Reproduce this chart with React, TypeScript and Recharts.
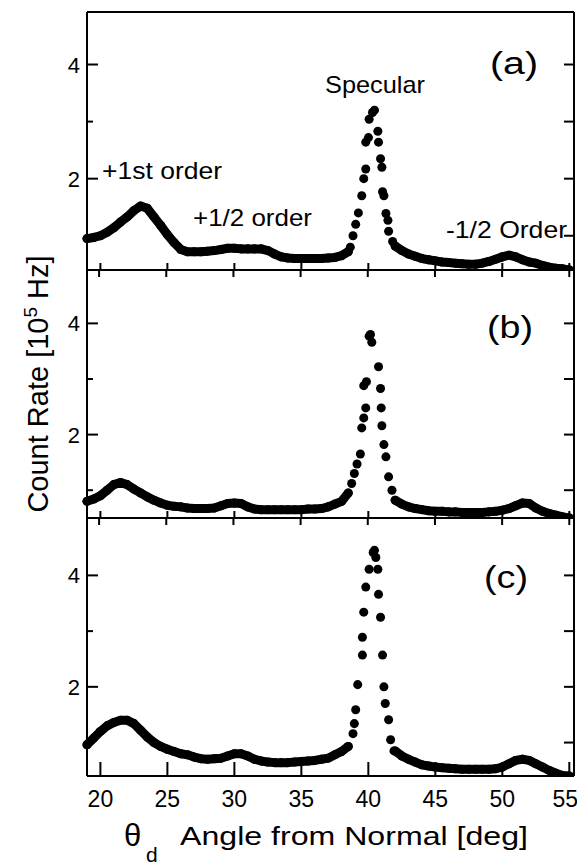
import React from 'react';
import { ScatterChart, Scatter, XAxis, YAxis } from 'recharts';

// angles (deg) of the smooth wings, shared by all three scans
const leftAngles = [
  19, 19.5, 20, 20.5, 21, 21.5, 22, 22.5, 23, 23.5,
  24, 24.5, 25, 25.5, 26, 26.5, 27, 27.5, 28, 28.5,
  29, 29.5, 30, 30.5, 31, 31.5, 32, 32.5, 33, 33.5,
  34, 34.5, 35, 35.5, 36, 36.5, 37, 37.5, 38, 38.5,
];
const rightAngles = [
  42, 42.5, 43, 43.5, 44, 44.5, 45, 45.5, 46, 46.5,
  47, 47.5, 48, 48.5, 49, 49.5, 50, 50.5, 51, 51.5,
  52, 52.5, 53, 53.5, 54, 54.5, 55,
];

// (a)
const leftA = [
  0.95, 0.97, 1.0, 1.06, 1.14, 1.24, 1.33, 1.44, 1.52, 1.48,
  1.33, 1.18, 1.02, 0.88, 0.76, 0.72, 0.72, 0.72, 0.73, 0.74,
  0.76, 0.78, 0.78, 0.77, 0.77, 0.77, 0.77, 0.74, 0.68, 0.63,
  0.61, 0.6, 0.6, 0.6, 0.6, 0.6, 0.61, 0.62, 0.65, 0.72,
];
const peakAnglesA = [38.7, 38.9, 39.1, 39.3, 39.55, 39.7, 39.85, 39.85, 40.05, 40.1, 40.35, 40.5, 40.75, 40.8, 40.95, 41.05, 41.1, 41.2, 41.35, 41.5, 41.55, 41.85];
const peakA = [0.8, 1.0, 1.2, 1.4, 1.7, 2.0, 2.17, 2.64, 2.72, 3.04, 3.16, 3.2, 2.83, 2.64, 2.35, 2.2, 1.77, 1.7, 1.39, 1.27, 1.08, 0.9];
const rightA = [
  0.82, 0.74, 0.68, 0.64, 0.6, 0.58, 0.56, 0.54, 0.53, 0.52,
  0.51, 0.5, 0.5, 0.52, 0.55, 0.59, 0.63, 0.66, 0.63, 0.58,
  0.54, 0.52, 0.48, 0.45, 0.43, 0.42, 0.4,
];

// (b)
const leftB = [
  0.8, 0.84, 0.9, 1.0, 1.1, 1.14, 1.1, 1.02, 0.95, 0.88,
  0.82, 0.77, 0.73, 0.71, 0.7, 0.68, 0.67, 0.67, 0.67, 0.68,
  0.72, 0.76, 0.77, 0.76, 0.7, 0.66, 0.65, 0.65, 0.65, 0.65,
  0.65, 0.65, 0.65, 0.66, 0.66, 0.67, 0.7, 0.75, 0.8, 0.95,
];
const peakAnglesB = [38.8, 39.0, 39.2, 39.45, 39.55, 39.7, 39.85, 39.7, 39.9, 40.1, 40.2, 40.3, 40.8, 40.95, 41.0, 41.05, 41.2, 41.35, 41.55, 41.8];
const peakB = [1.12, 1.3, 1.47, 1.65, 2.12, 2.3, 2.48, 2.88, 2.95, 3.77, 3.8, 3.66, 3.22, 2.83, 2.48, 2.16, 1.82, 1.6, 1.24, 1.0];
const rightB = [
  0.82, 0.75, 0.7, 0.67, 0.65, 0.63, 0.62, 0.62, 0.61, 0.61,
  0.6, 0.6, 0.6, 0.6, 0.61, 0.62, 0.64, 0.67, 0.72, 0.77,
  0.76, 0.68, 0.62, 0.58, 0.55, 0.52, 0.5,
];

// (c)
const leftC = [
  0.96, 1.08, 1.2, 1.3, 1.36, 1.4, 1.4, 1.34, 1.22, 1.1,
  1.0, 0.93, 0.88, 0.84, 0.8, 0.78, 0.74, 0.71, 0.7, 0.71,
  0.72, 0.76, 0.8, 0.8, 0.76, 0.7, 0.67, 0.65, 0.64, 0.64,
  0.64, 0.65, 0.66, 0.67, 0.68, 0.7, 0.72, 0.78, 0.84, 0.93,
];
const peakAnglesC = [38.9, 39.0, 39.1, 39.25, 39.6, 39.6, 39.7, 39.85, 40.1, 40.4, 40.5, 40.6, 40.75, 40.8, 40.95, 41.1, 41.2, 41.3, 41.55, 41.7, 41.95];
const peakC = [1.16, 1.34, 1.59, 2.04, 2.57, 2.89, 3.34, 3.79, 4.11, 4.41, 4.45, 4.32, 4.11, 3.66, 3.25, 2.57, 2.0, 1.7, 1.41, 1.05, 0.85];
const rightC = [
  0.85, 0.76, 0.7, 0.65, 0.6, 0.58, 0.56, 0.55, 0.54, 0.53,
  0.52, 0.52, 0.52, 0.52, 0.52, 0.53, 0.56, 0.62, 0.68, 0.7,
  0.68, 0.62, 0.56, 0.5, 0.45, 0.41, 0.4,
];

const majorX = [20, 25, 30, 35, 40, 45, 50, 55];
const allX = [
  19, 20, 21, 22, 23, 24, 25, 26, 27, 28, 29, 30, 31, 32, 33, 34, 35, 36, 37,
  38, 39, 40, 41, 42, 43, 44, 45, 46, 47, 48, 49, 50, 51, 52, 53, 54, 55,
];
const yTicks = [1, 2, 3, 4];

const FONT = '"Liberation Sans", Arial, Helvetica, sans-serif';
const W = 577;
const X_DOMAIN: [number, number] = [19.1, 55.35];

const pts = (xs: number[], ys: number[]) => xs.map((x, i) => ({ x, y: ys[i] }));

const wingLine = { stroke: '#000', strokeWidth: 9, strokeLinejoin: 'round', strokeLinecap: 'round' };
const frame = { stroke: '#000', strokeWidth: 2 };
const tickStroke = { stroke: '#000', strokeWidth: 2 };
const NoLabel = () => <g />;

const LeftTick = (props: any) => {
  const { x, y, payload } = props;
  const major = payload.value % 2 === 0;
  return (
    <g>
      <line x1={x} x2={x + (major ? 11 : 6)} y1={y} y2={y} stroke="#000" strokeWidth={2} />
      {major && (
        <text x={x - 7} y={y + 8} textAnchor="end" fontSize={22} fontFamily={FONT} fill="#000">
          {payload.value}
        </text>
      )}
    </g>
  );
};

// labels under panel (c); tick marks come from tickLine (size -14, margin 14 puts y back on the axis)
const BottomLabel = (props: any) => {
  const { x, y, payload } = props;
  const lx = payload.value === 55 ? x - 4 : x;
  return (
    <text x={lx} y={y + 31} textAnchor="middle" fontSize={23} fontFamily={FONT} fill="#000">
      {payload.value}
    </text>
  );
};

interface PanelProps {
  top: number;
  mt: number;
  plotH: number;
  yDomain: [number, number];
  left: number[];
  peakAngles: number[];
  peak: number[];
  right: number[];
  topTicks: boolean;
  labeled: boolean;
}

const Panel = ({ top, mt, plotH, yDomain, left, peakAngles, peak, right, topTicks, labeled }: PanelProps) => {
  const xH = labeled ? 45 : 2;
  const h = mt + 2 + plotH + xH + 3;
  return (
    <div style={{ position: 'absolute', left: 0, top }}>
      <ScatterChart width={W} height={h} margin={{ top: mt, right: 0, bottom: 3, left: 0 }}>
        {labeled && (
          <XAxis
            xAxisId="minor"
            orientation="bottom"
            type="number"
            dataKey="x"
            domain={X_DOMAIN}
            ticks={allX}
            interval={0}
            height={0}
            tickSize={-7}
            tickMargin={7}
            tick={NoLabel}
            stroke="#000"
            axisLine={frame}
            tickLine={tickStroke}
          />
        )}
        <XAxis
          xAxisId="b"
          orientation="bottom"
          type="number"
          dataKey="x"
          domain={X_DOMAIN}
          ticks={majorX}
          interval={0}
          height={xH}
          tickSize={labeled ? -14 : -7}
          tickMargin={labeled ? 14 : 7}
          tick={labeled ? BottomLabel : NoLabel}
          stroke="#000"
          axisLine={frame}
          tickLine={tickStroke}
        />
        <XAxis
          xAxisId="t"
          orientation="top"
          type="number"
          dataKey="x"
          domain={X_DOMAIN}
          ticks={majorX}
          interval={0}
          height={2}
          tickSize={topTicks ? -7 : 0}
          tickMargin={0}
          tick={NoLabel}
          stroke="#000"
          axisLine={frame}
          tickLine={topTicks ? tickStroke : false}
        />
        <YAxis
          yAxisId="l"
          orientation="left"
          type="number"
          dataKey="y"
          domain={yDomain}
          allowDataOverflow
          ticks={yTicks}
          interval={0}
          width={79}
          tickSize={0}
          tickMargin={0}
          tick={LeftTick}
          stroke="#000"
          axisLine={frame}
          tickLine={false}
        />
        <YAxis
          yAxisId="r"
          orientation="right"
          type="number"
          dataKey="y"
          domain={yDomain}
          allowDataOverflow
          ticks={yTicks}
          interval={0}
          width={11}
          tickSize={-10}
          tickMargin={0}
          tick={NoLabel}
          stroke="#000"
          axisLine={frame}
          tickLine={tickStroke}
        />
        <Scatter xAxisId="b" yAxisId="l" data={pts(leftAngles, left)} fill="#000" line={wingLine} isAnimationActive={false} />
        <Scatter xAxisId="t" yAxisId="l" data={pts(peakAngles, peak)} fill="#000" isAnimationActive={false} />
        <Scatter xAxisId="b" yAxisId="r" data={pts(rightAngles, right)} fill="#000" line={wingLine} isAnimationActive={false} />
        {labeled && (
          <Scatter xAxisId="minor" yAxisId="r" data={[]} fill="#000" isAnimationActive={false} />
        )}
      </ScatterChart>
    </div>
  );
};

const t = (x: number) => x - 8;

export default function App() {
  return (
    <div style={{ position: 'relative', width: W, height: 857, background: '#fff', fontFamily: FONT }}>
      <Panel top={0} mt={2} plotH={258} yDomain={[0.4, 4.92]} left={leftA} peakAngles={peakAnglesA} peak={peakA} right={rightA} topTicks={false} labeled={false} />
      <Panel top={257} mt={3} plotH={248} yDomain={[0.5, 4.96]} left={leftB} peakAngles={peakAnglesB} peak={peakB} right={rightB} topTicks labeled={false} />
      <Panel top={505} mt={3} plotH={258} yDomain={[0.4, 5.03]} left={leftC} peakAngles={peakAnglesC} peak={peakC} right={rightC} topTicks labeled />
      <svg width={W} height={857} style={{ position: 'absolute', left: 0, top: 0, pointerEvents: 'none' }}>
        <g fontFamily={FONT} fill="#000">
          <text x={t(102)} y={t(179)} fontSize={24} textLength={120} lengthAdjust="spacingAndGlyphs">+1st order</text>
          <text x={t(193)} y={t(226)} fontSize={24} textLength={119} lengthAdjust="spacingAndGlyphs">+1/2 order</text>
          <text x={t(325)} y={t(93)} fontSize={24} textLength={100} lengthAdjust="spacingAndGlyphs">Specular</text>
          <text x={t(446)} y={t(238)} fontSize={24} textLength={121} lengthAdjust="spacingAndGlyphs">-1/2 Order</text>
          <text x={t(490)} y={t(74)} fontSize={31} textLength={48} lengthAdjust="spacingAndGlyphs">(a)</text>
          <text x={t(487)} y={t(338)} fontSize={31} textLength={46} lengthAdjust="spacingAndGlyphs">(b)</text>
          <text x={t(484)} y={t(588)} fontSize={31} textLength={44} lengthAdjust="spacingAndGlyphs">(c)</text>
          <text x={t(124)} y={t(846)} fontSize={31}>θ</text>
          <text x={t(146)} y={t(862)} fontSize={21}>d</text>
          <text x={t(180)} y={t(845)} fontSize={25} textLength={348} lengthAdjust="spacingAndGlyphs">Angle from Normal [deg]</text>
          <text transform={`translate(${t(48)}, ${t(384)}) rotate(-90)`} textAnchor="middle" fontSize={29}>
            Count Rate [10<tspan dy={-11} fontSize={19}>5</tspan><tspan dy={11}> Hz]</tspan>
          </text>
        </g>
      </svg>
    </div>
  );
}
